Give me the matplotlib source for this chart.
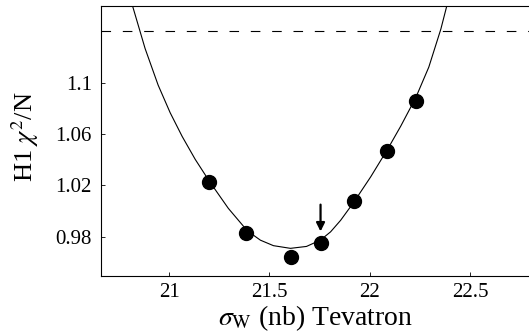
import matplotlib
matplotlib.use("Agg")
import matplotlib.pyplot as plt

# Data points
sigma_w = [21.198, 21.383, 21.61, 21.755, 21.922, 22.088, 22.233]
chi2_n = [1.023, 0.983, 0.964, 0.975, 1.0075, 1.047, 1.086]

# Fitted curve
curve_x = [20.8165, 20.88, 20.945, 21.005, 21.065, 21.13, 21.2, 21.295,
           21.39, 21.455, 21.52, 21.605, 21.685, 21.755, 21.805, 21.855,
           21.92, 22.005, 22.09, 22.155, 22.23, 22.295, 22.355, 22.39]
curve_y = [1.1609, 1.1271, 1.0985, 1.0769, 1.0583, 1.0404, 1.0234, 1.0021,
           0.9845, 0.9772, 0.9729, 0.9708, 0.9723, 0.9773, 0.9837, 0.9927,
           1.0067, 1.0267, 1.0485, 1.0664, 1.0887, 1.1126, 1.1423, 1.1637]

limit_level = 1.141
arrow_x = 21.755
arrow_from = 1.005
arrow_to = 0.984

x_ticks = [21, 21.5, 22, 22.5]
x_tick_labels = ["21", "21.5", "22", "22.5"]
y_ticks = [0.98, 1.02, 1.06, 1.1]
y_tick_labels = ["0.98", "1.02", "1.06", "1.1"]

plt.rcParams['font.family'] = ['Liberation Serif', 'DejaVu Serif']
plt.rcParams['mathtext.fontset'] = 'stix'

fig = plt.figure(figsize=(5.29, 3.33), dpi=100)
ax = fig.add_axes([101/529, (333-275.7)/333, 1 - 101/529 + 0.002, (275.7-6)/333])

ax.plot(curve_x, curve_y, color='black', lw=0.8, solid_joinstyle='round')
ax.plot(sigma_w, chi2_n, 'o', color='black', markersize=10, zorder=3)
ax.axhline(limit_level, color='black', lw=0.8, dashes=(8.6, 10.6))
ax.annotate('', xy=(arrow_x, arrow_to), xytext=(arrow_x, arrow_from),
            arrowprops=dict(arrowstyle='-|>,head_length=0.5,head_width=0.25',
                            color='black', lw=1.6, shrinkA=0, shrinkB=0))

ax.set_xlim(20.66, 22.8)
ax.set_ylim(0.9494, 1.1604)
ax.set_xticks(x_ticks)
ax.set_xticklabels(x_tick_labels)
ax.set_yticks(y_ticks)
ax.set_yticklabels(y_tick_labels)
ax.tick_params(direction='in', length=3, width=0.6, labelsize=15)
ax.tick_params(axis='y', pad=6.5)
ax.tick_params(axis='x', pad=5)
ax.spines['right'].set_visible(False)
for s in ['left', 'top', 'bottom']:
    ax.spines[s].set_linewidth(0.8)

ax.set_xlabel(r'$\sigma_{\rm W}$ (nb) Tevatron', fontsize=20, labelpad=1.5)
ax.set_ylabel(r'H1 $\chi^2$/N', fontsize=19)
ax.yaxis.set_label_coords(-0.14, 0.515)

fig.savefig('out.png', dpi=100)
